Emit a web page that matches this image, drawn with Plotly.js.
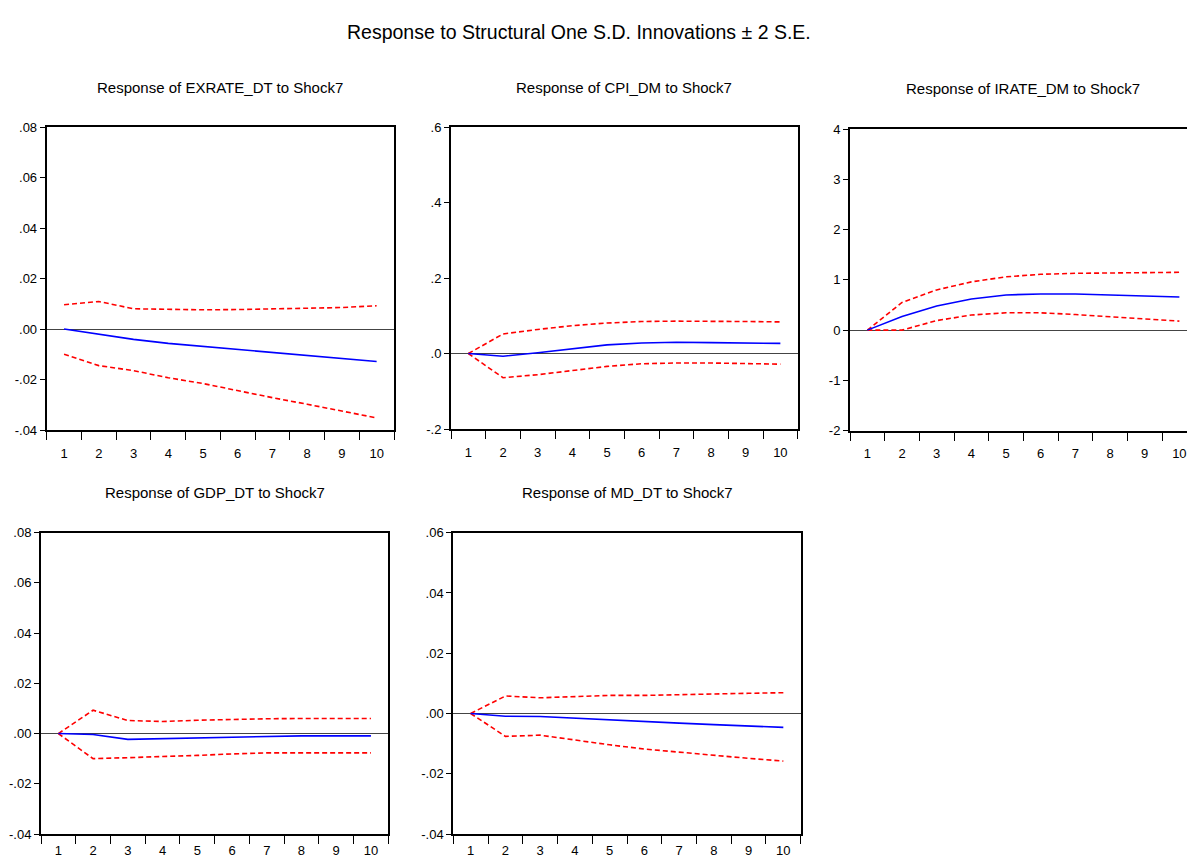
<!DOCTYPE html>
<html>
<head>
<meta charset="utf-8">
<script src="https://cdn.plot.ly/plotly-3.0.1.min.js"></script>
<style>
html,body{margin:0;padding:0;overflow:hidden;background:#fff;}
#chart{width:1200px;height:863px;}
</style>
</head>
<body>
<div id="chart"></div>
<script>
// ---- data ----
const periods = ['1','2','3','4','5','6','7','8','9','10'];

const exrateResp  = [0.0000, -0.0019, -0.0041, -0.0057, -0.0069, -0.0081, -0.0095, -0.0107, -0.0119, -0.0129];
const exrateUpper = [0.0096, 0.0109, 0.0080, 0.0077, 0.0076, 0.0077, 0.0080, 0.0083, 0.0085, 0.0092];
const exrateLower = [-0.0100, -0.0145, -0.0165, -0.0193, -0.0216, -0.0245, -0.0272, -0.0298, -0.0325, -0.0352];

const cpiResp  = [0.000, -0.007, 0.002, 0.013, 0.023, 0.028, 0.030, 0.029, 0.028, 0.027];
const cpiUpper = [0.000, 0.052, 0.064, 0.074, 0.081, 0.085, 0.086, 0.086, 0.085, 0.084];
const cpiLower = [0.000, -0.064, -0.056, -0.044, -0.034, -0.027, -0.025, -0.025, -0.027, -0.028];

const irateResp  = [0.00, 0.27, 0.48, 0.62, 0.70, 0.72, 0.72, 0.70, 0.68, 0.66];
const irateUpper = [0.00, 0.55, 0.80, 0.96, 1.06, 1.11, 1.13, 1.14, 1.15, 1.15];
const irateLower = [0.00, 0.00, 0.19, 0.30, 0.345, 0.345, 0.31, 0.27, 0.22, 0.18];

const gdpResp  = [0.0000, -0.0004, -0.0023, -0.0020, -0.0016, -0.0013, -0.0011, -0.0009, -0.0009, -0.0009];
const gdpUpper = [0.0000, 0.0093, 0.0052, 0.0048, 0.0053, 0.0057, 0.0059, 0.0060, 0.0060, 0.0060];
const gdpLower = [0.0000, -0.0100, -0.0096, -0.0092, -0.0087, -0.0081, -0.0077, -0.0077, -0.0077, -0.0077];

const mdResp  = [0.0000, -0.0009, -0.0010, -0.0016, -0.0022, -0.0028, -0.0032, -0.0037, -0.0041, -0.0046];
const mdUpper = [0.0000, 0.0058, 0.0052, 0.0057, 0.0060, 0.0060, 0.0063, 0.0065, 0.0067, 0.0069];
const mdLower = [0.0000, -0.0076, -0.0072, -0.0089, -0.0104, -0.0118, -0.0129, -0.0139, -0.0149, -0.0158];

const panelTitles = [
  'Response of EXRATE_DT to Shock7',
  'Response of CPI_DM to Shock7',
  'Response of IRATE_DM to Shock7',
  'Response of GDP_DT to Shock7',
  'Response of MD_DT to Shock7'
];
const mainTitle = 'Response to Structural One S.D. Innovations \u00b1 2 S.E.';

const yTickVals = [
  [-0.04, -0.02, 0, 0.02, 0.04, 0.06, 0.08],
  [-0.2, 0, 0.2, 0.4, 0.6],
  [-2, -1, 0, 1, 2, 3, 4],
  [-0.04, -0.02, 0, 0.02, 0.04, 0.06, 0.08],
  [-0.04, -0.02, 0, 0.02, 0.04, 0.06]
];
const yTickText = [
  ['-.04', '-.02', '.00', '.02', '.04', '.06', '.08'],
  ['-.2', '.0', '.2', '.4', '.6'],
  ['-2', '-1', '0', '1', '2', '3', '4'],
  ['-.04', '-.02', '.00', '.02', '.04', '.06', '.08'],
  ['-.04', '-.02', '.00', '.02', '.04', '.06']
];
const yRanges = [[-0.04, 0.08], [-0.2, 0.6], [-2, 4], [-0.04, 0.08], [-0.04, 0.06]];

const series = [
  [exrateResp, exrateUpper, exrateLower],
  [cpiResp, cpiUpper, cpiLower],
  [irateResp, irateUpper, irateLower],
  [gdpResp, gdpUpper, gdpLower],
  [mdResp, mdUpper, mdLower]
];

// ---- layout geometry (pixels) ----
const W = 1200, H = 863;
const boxes = [
  [46.7, 394, 127, 430],
  [451, 797.7, 127.3, 429],
  [850, 1196.7, 129, 430.7],
  [41, 388.3, 532.7, 834],
  [453.3, 800.7, 532.7, 834]
];
const standoffs = [10, 10, 10, 3, 3];

const FONT = '"Liberation Sans Narrow", "Arial Narrow", "Liberation Sans", Arial, sans-serif';
const traces = [];
const layout = {
  width: W, height: H,
  margin: {l: 0, r: 0, t: 0, b: 0},
  paper_bgcolor: '#fff', plot_bgcolor: '#fff',
  showlegend: false,
  font: {family: FONT, color: '#000', size: 13},
  annotations: [],
  title: {text: ''}
};

series.forEach((s, i) => {
  const n = i === 0 ? '' : String(i + 1);
  const xa = 'x' + n, ya = 'y' + n;
  traces.push({x: periods, y: s[1], xaxis: xa, yaxis: ya, mode: 'lines', type: 'scatter',
    line: {color: '#ff0000', width: 1.6, dash: '5px,3px'}, hoverinfo: 'skip'});
  traces.push({x: periods, y: s[2], xaxis: xa, yaxis: ya, mode: 'lines', type: 'scatter',
    line: {color: '#ff0000', width: 1.6, dash: '5px,3px'}, hoverinfo: 'skip'});
  traces.push({x: periods, y: s[0], xaxis: xa, yaxis: ya, mode: 'lines', type: 'scatter',
    line: {color: '#0000ff', width: 1.6}, hoverinfo: 'skip'});
  const b = boxes[i];
  layout['xaxis' + n] = {
    type: 'category', anchor: ya, domain: [b[0] / W, b[1] / W],
    range: [-0.5, 9.5], tickson: 'boundaries', ticks: 'outside', ticklen: 8, tickwidth: 1,
    tickcolor: '#000', showline: true, mirror: true, linecolor: '#000', linewidth: 2,
    showgrid: false, zeroline: false, tickfont: {size: 13, family: FONT},
    ticklabelstandoff: standoffs[i], fixedrange: true
  };
  layout['yaxis' + n] = {
    anchor: xa, domain: [1 - b[3] / H, 1 - b[2] / H], range: yRanges[i],
    tickvals: yTickVals[i], ticktext: yTickText[i], ticks: 'outside', ticklen: 5, tickwidth: 1,
    tickcolor: '#000', showline: true, mirror: true, linecolor: '#000', linewidth: 2,
    showgrid: false, zeroline: true, zerolinecolor: '#444', zerolinewidth: 1,
    tickfont: {size: 13, family: FONT}, fixedrange: true
  };
  layout.annotations.push({
    text: panelTitles[i], xref: 'paper', yref: 'paper',
    x: (b[0] + b[1]) / 2 / W, y: 1 - (b[2] - 40) / H,
    xanchor: 'center', yanchor: 'middle', showarrow: false,
    font: {size: 15, family: FONT, color: '#000'}
  });
});

layout.annotations.push({
  text: mainTitle, xref: 'paper', yref: 'paper', x: 578.5 / W, y: 1 - 32 / H,
  xanchor: 'center', yanchor: 'middle', showarrow: false,
  font: {size: 19.5, family: FONT, color: '#000'}
});

Plotly.newPlot('chart', traces, layout, {staticPlot: true, displayModeBar: false});
</script>
</body>
</html>
